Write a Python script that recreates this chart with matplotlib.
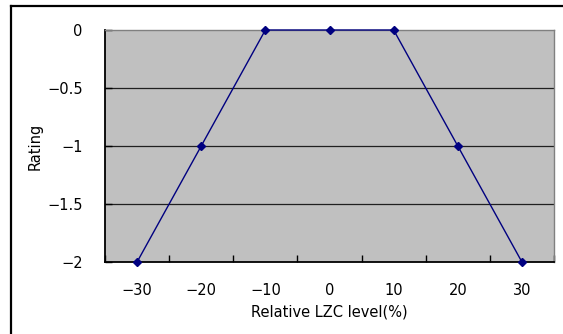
import matplotlib
matplotlib.use("Agg")
import matplotlib.pyplot as plt
from matplotlib.lines import Line2D

categories = ["-30", "-20", "-10", "0", "10", "20", "30"]
tick_labels = ["\u221230", "\u221220", "\u221210", "0", "10", "20", "30"]
rating = [-2, -1, 0, 0, 0, -1, -2]
y_ticks = [0, -0.5, -1, -1.5, -2]
y_tick_labels = ["0", "\u22120.5", "\u22121", "\u22121.5", "\u22122"]

W, H = 563, 334
fig = plt.figure(figsize=(W / 100, H / 100), dpi=100)
ax = fig.add_axes([105 / W, 1 - 262 / H, (554 - 105) / W, (262 - 30) / H])
ax.set_facecolor("#C0C0C0")

x = list(range(len(categories)))
ax.plot(x, rating, color="#000080", lw=1.0, marker="D", ms=4, mfc="#000080", mec="#000080", zorder=3, clip_on=False)

ax.set_xlim(-0.5, len(categories) - 0.5)
ax.set_ylim(-2, 0)
ax.set_xticks([i for i in x])
ax.set_xticklabels(tick_labels, fontsize=10.5)
ax.set_xticks([i - 0.5 for i in range(len(categories) + 1)], minor=True)
ax.tick_params(axis="x", which="major", length=0, pad=15)
ax.tick_params(axis="x", which="minor", length=5, width=1, direction="in", color="black")
ax.set_yticks(y_ticks)
ax.set_yticklabels(y_tick_labels, fontsize=10.5)
ax.tick_params(axis="y", length=5, width=1, direction="in", pad=16, color="black")
for yv in [-0.5, -1, -1.5]:
    ax.axhline(yv, color="#202020", lw=0.9, zorder=1)

for s in ["left", "bottom"]:
    ax.spines[s].set_color("#000000")
    ax.spines[s].set_linewidth(1.3)
for s in ["top", "right"]:
    ax.spines[s].set_color("#808080")
    ax.spines[s].set_linewidth(1.0)

ax.set_xlabel("Relative LZC level(%)", fontsize=10.5, labelpad=5)
ax.set_ylabel("Rating", fontsize=10.5)
ax.yaxis.set_label_coords((43 - 105) / 449, 0.5)

fig.add_artist(Line2D([11 / W, 11 / W], [0, 1 - 6 / H], color="black", lw=1.6, transform=fig.transFigure))
fig.add_artist(Line2D([11 / W, 1], [1 - 6 / H, 1 - 6 / H], color="black", lw=1.6, transform=fig.transFigure))

fig.savefig("out.png", dpi=100)
